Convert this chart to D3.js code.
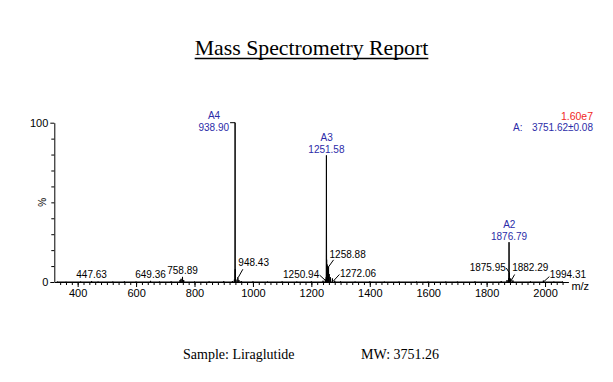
<!DOCTYPE html>
<html>
<head>
<meta charset="utf-8">
<script src="https://cdn.jsdelivr.net/npm/d3@7"></script>
<style>
  html, body { margin: 0; padding: 0; background: #fff; }
  #ms-chart { width: 613px; height: 382px; }
</style>
</head>
<body>
<div id="ms-chart"></div>
<script>
// spectrum sticks: m/z and relative intensity (%)
const peakMz = [330, 360, 410, 447.63, 470, 520, 560, 600, 649.36, 680, 720, 750.5, 754.0, 758.89, 763,
  800, 850, 900, 930, 936.5, 938.90, 939.4, 942, 948.43, 952, 960, 1000, 1050, 1100, 1150, 1200,
  1240, 1248, 1250.94, 1251.58, 1252.3, 1254, 1256, 1258.88, 1261, 1265, 1272.06, 1280, 1300, 1350,
  1400, 1450, 1500, 1560, 1600, 1660, 1700, 1760, 1850, 1870, 1875.95, 1876.79, 1877.5, 1882.29,
  1890, 1950, 1994.31, 2030, 2060];
const peakPct = [0.3, 0.2, 0.3, 0.6, 0.3, 0.3, 0.4, 0.3, 0.7, 0.3, 0.4, 1.2, 2, 3.2, 1.2,
  0.3, 0.4, 0.5, 0.6, 1.5, 100, 8, 1.5, 3, 1.2, 0.6, 0.4, 0.3, 0.4, 0.3, 0.4,
  0.8, 1.5, 3, 79.5, 14, 11, 10, 9.5, 5, 3, 2.2, 0.8, 0.4, 0.3,
  0.4, 0.3, 0.3, 0.3, 0.3, 0.3, 0.3, 0.4, 0.6, 1.2, 2.5, 25, 6, 2.2,
  1, 0.4, 0.9, 0.3, 0.3];

// peaks that carry an m/z label
const labelMz = [447.63, 649.36, 758.89, 938.90, 948.43, 1250.94, 1251.58, 1258.88, 1272.06,
  1875.95, 1876.79, 1882.29, 1994.31];

// charge state series
const seriesNames = ['A4', 'A3', 'A2'];
const seriesMz = [938.90, 1251.58, 1876.79];

const xTickValues = [400, 600, 800, 1000, 1200, 1400, 1600, 1800, 2000];
const yTickValues = [0, 100];
const xDomain = [320, 2080];
const yDomain = [0, 100];

const titleText = 'Mass Spectrometry Report';
const maxIntensityText = '1.60e7';
const massResultText = ['A:', '3751.62\u00b10.08'];
const sampleText = 'Sample: Liraglutide';
const mwText = 'MW: 3751.26';

const MassSpecComponent = (() => {
  // where each label sits relative to the top of its peak (px)
  const labelLayout = {
    '447.63': { anchor: 'middle', dx: 0, dy: -3 },
    '649.36': { anchor: 'middle', dx: 0, dy: -3 },
    '758.89': { anchor: 'middle', dx: 0, dy: -2.5 },
    '938.90': { anchor: 'end', dx: -6, dy: 8, leader: [-5, 0, 0, 0] },
    '948.43': { anchor: 'start', dx: 0.5, dy: -11, leader: [0.5, 0, 5, -8] },
    '1250.94': { anchor: 'end', dx: -7, dy: 1, leader: [-6.5, -2, -1, 3] },
    '1251.58': { anchor: 'middle', dx: 0, dy: -2 },
    '1258.88': { anchor: 'start', dx: 1, dy: -8.5, leader: [0, 0, 5, -7] },
    '1272.06': { anchor: 'start', dx: 7.5, dy: -1, leader: [1, 2.5, 7, -4] },
    '1875.95': { anchor: 'end', dx: -3, dy: -7.5, leader: [-2.5, -10, 0, -6] },
    '1876.79': { anchor: 'middle', dx: 0, dy: -2 },
    '1882.29': { anchor: 'start', dx: 1.5, dy: -7, leader: [0, 3, 4, -4] },
    '1994.31': { anchor: 'start', dx: 6.5, dy: -3, leader: [0.5, 1, 6, -4] },
  };

  const api = {
    setChartProps(chartId, width, height) {
      const config = {
        name: chartId,
        width: width,
        height: height,
        plot: { left: 54.3, right: 568.4, top: 122.7, bottom: 282 },
        sans: '"Liberation Sans", Arial, sans-serif',
        serif: '"Liberation Serif", "Times New Roman", serif',
        blue: '#2b2ba8',
        red: '#f0281e',
      };

      const container = d3.select('#' + config.name);
      container.selectAll('*').remove();

      const svg = container
        .append('svg')
        .attr('width', config.width)
        .attr('height', config.height);

      /* ---------------- SCALES ---------------- */
      const xScale = d3
        .scaleLinear()
        .domain(xDomain)
        .range([config.plot.left, config.plot.right]);

      const yScale = d3
        .scaleLinear()
        .domain(yDomain)
        .range([config.plot.bottom, config.plot.top]);

      return { config, svg, xScale, yScale };
    },

    drawAxes(chart) {
      const { config, svg, xScale, yScale } = chart;
      const y0 = config.plot.bottom;

      // minor x ticks every 20
      svg
        .append('g')
        .attr('transform', `translate(0,${y0})`)
        .call(
          d3
            .axisBottom(xScale)
            .tickValues(d3.range(340, 2080, 20))
            .tickSize(3)
            .tickSizeOuter(0)
            .tickFormat('')
        )
        .call((g) => g.selectAll('line').attr('stroke', '#000'))
        .call((g) => g.select('.domain').attr('stroke', '#000'));

      const xAxis = svg
        .append('g')
        .attr('transform', `translate(0,${y0})`)
        .call(
          d3
            .axisBottom(xScale)
            .tickValues(xTickValues)
            .tickSize(5)
            .tickSizeOuter(0)
            .tickPadding(2)
            .tickFormat(d3.format('d'))
        );
      xAxis.select('.domain').remove();
      xAxis
        .selectAll('text')
        .attr('font-family', config.sans)
        .attr('font-size', '11px')
        .attr('fill', '#000');

      // y axis: minor every 10, labels at 0 and 100
      svg
        .append('g')
        .attr('transform', `translate(${config.plot.left},0)`)
        .call(
          d3
            .axisLeft(yScale)
            .tickValues(d3.range(10, 100, 10))
            .tickSize(3)
            .tickSizeOuter(0)
            .tickFormat('')
        )
        .call((g) => g.select('.domain').attr('stroke', '#000'));

      const yAxis = svg
        .append('g')
        .attr('transform', `translate(${config.plot.left},0)`)
        .call(
          d3.axisLeft(yScale).tickValues(yTickValues).tickSize(4).tickPadding(2)
        );
      yAxis.select('.domain').remove();
      yAxis
        .selectAll('text')
        .attr('font-family', config.sans)
        .attr('font-size', '11px')
        .attr('fill', '#000');

      svg
        .append('text')
        .attr('transform', `translate(46,${yScale(50)}) rotate(-90)`)
        .attr('text-anchor', 'middle')
        .attr('font-family', config.sans)
        .attr('font-size', '10px')
        .text('%');

      svg
        .append('text')
        .attr('x', config.plot.right + 3)
        .attr('y', y0 + 8)
        .attr('font-family', config.sans)
        .attr('font-size', '11px')
        .text('m/z');
    },

    drawSpectrum(chart) {
      const { config, svg, xScale, yScale } = chart;
      const peaks = peakMz
        .map((mz, i) => ({ mz, pct: peakPct[i] }))
        .sort((a, b) => a.mz - b.mz);

      // each stick drawn as a thin spike on the baseline
      const pts = [];
      peaks.forEach((p) => {
        const x = xScale(p.mz);
        pts.push([x - 0.2, yScale(0)], [x, yScale(p.pct)], [x + 0.2, yScale(0)]);
      });

      svg
        .append('path')
        .attr('class', 'spectrum')
        .attr('d', d3.line()(pts))
        .attr('fill', 'none')
        .attr('stroke', '#000')
        .attr('stroke-width', 1)
        .attr('stroke-linejoin', 'bevel');

      /* ---------------- PEAK LABELS ---------------- */
      const g = svg.append('g').attr('class', 'peak-labels');
      labelMz.forEach((mz) => {
        const pct = peakPct[peakMz.indexOf(mz)];
        const key = mz.toFixed(2);
        const lay = labelLayout[key];
        const px = xScale(mz);
        const py = yScale(pct);
        const isSeries = seriesMz.indexOf(mz) >= 0;

        const t = g
          .append('text')
          .attr('x', px + lay.dx)
          .attr('y', py + lay.dy)
          .attr('text-anchor', lay.anchor)
          .attr('font-family', config.sans)
          .attr('font-size', '10px')
          .attr('fill', isSeries ? config.blue : '#000')
          .text(key);

        if (lay.leader) {
          g.append('line')
            .attr('x1', px + lay.leader[0])
            .attr('y1', py + lay.leader[1])
            .attr('x2', px + lay.leader[2])
            .attr('y2', py + lay.leader[3])
            .attr('stroke', '#000')
            .attr('stroke-width', 1);
        }

        if (isSeries) {
          const bb = t.node().getBBox();
          g.append('text')
            .attr('x', bb.x + bb.width / 2)
            .attr('y', py + lay.dy - 12)
            .attr('text-anchor', 'middle')
            .attr('font-family', config.sans)
            .attr('font-size', '10px')
            .attr('fill', config.blue)
            .text(seriesNames[seriesMz.indexOf(mz)]);
        }
      });
    },

    drawText(chart) {
      const { config, svg } = chart;

      const title = svg
        .append('text')
        .attr('x', 311.5)
        .attr('y', 55)
        .attr('text-anchor', 'middle')
        .attr('font-family', config.serif)
        .attr('font-size', '21.8px')
        .text(titleText);
      const tb = title.node().getBBox();
      svg
        .append('line')
        .attr('x1', tb.x)
        .attr('x2', tb.x + tb.width)
        .attr('y1', 58.5)
        .attr('y2', 58.5)
        .attr('stroke', '#000')
        .attr('stroke-width', 1.4);

      svg
        .append('text')
        .attr('x', 593)
        .attr('y', 120)
        .attr('text-anchor', 'end')
        .attr('font-family', config.sans)
        .attr('font-size', '10.5px')
        .attr('fill', config.red)
        .text(maxIntensityText);
      svg
        .append('text')
        .attr('x', 513)
        .attr('y', 130.5)
        .attr('font-family', config.sans)
        .attr('font-size', '10px')
        .attr('fill', config.blue)
        .text(massResultText[0]);
      svg
        .append('text')
        .attr('x', 593)
        .attr('y', 130.5)
        .attr('text-anchor', 'end')
        .attr('font-family', config.sans)
        .attr('font-size', '10px')
        .attr('fill', config.blue)
        .text(massResultText[1]);

      svg
        .append('text')
        .attr('x', 183)
        .attr('y', 359)
        .attr('font-family', config.serif)
        .attr('font-size', '14px')
        .text(sampleText);
      svg
        .append('text')
        .attr('x', 361)
        .attr('y', 359)
        .attr('font-family', config.serif)
        .attr('font-size', '14px')
        .text(mwText);
    },
  };

  return api;
})();

const _chart = MassSpecComponent.setChartProps('ms-chart', 613, 382);
MassSpecComponent.drawAxes(_chart);
MassSpecComponent.drawSpectrum(_chart);
MassSpecComponent.drawText(_chart);
</script>
</body>
</html>
